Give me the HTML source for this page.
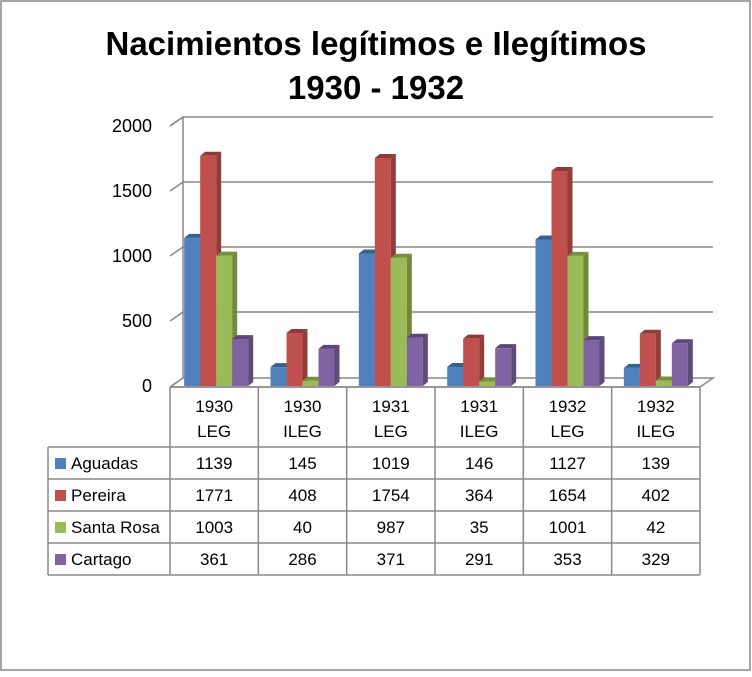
<!DOCTYPE html>
<html><head><meta charset="utf-8"><style>
body{margin:0;background:#fff}
svg text{font-family:"Liberation Sans",sans-serif}
</style></head><body>
<svg width="752" height="672">
<rect x="1" y="1" width="749" height="669" fill="#fff" stroke="#888" stroke-width="1.5"/>
<text x="376" y="55" text-anchor="middle" font-size="33" font-weight="bold">Nacimientos legítimos e Ilegítimos</text>
<text x="376" y="99" text-anchor="middle" font-size="33" font-weight="bold">1930 - 1932</text>
<g id="plot"></g>
</svg>
<script>
const categories=["1930|LEG","1930|ILEG","1931|LEG","1931|ILEG","1932|LEG","1932|ILEG"];
const seriesNames=["Aguadas","Pereira","Santa Rosa","Cartago"];
const aguadas=[1139,145,1019,146,1127,139];
const pereira=[1771,408,1754,364,1654,402];
const santaRosa=[1003,40,987,35,1001,42];
const cartago=[361,286,371,291,353,329];
const yTicks=[0,500,1000,1500,2000];
const colors=[["#4f81bd","#3a6294","#34618f"],["#c0504d","#943c3a","#8e3b38"],["#9bbb59","#6f8a3c","#76923c"],["#8064a2","#5f4a79","#5c4677"]];
const series=[aguadas,pereira,santaRosa,cartago];
const NS="http://www.w3.org/2000/svg";
const g=document.getElementById('plot');
function el(t,a,p){const e=document.createElementNS(NS,t);for(const k in a)e.setAttribute(k,a[k]);(p||g).appendChild(e);return e;}
const X0=170,X1=700,DX=13,DY=-9,BASE=386,SC=0.13;
const catW=(X1-X0)/categories.length;
function y(v){return BASE-v*SC;}
// walls
let w=el('path',{d:`M${X0} ${BASE+1} L${X0+DX} ${BASE+1+DY} L${X0+DX} ${y(2000)+DY} L${X0} ${y(2000)}`,fill:'none',stroke:'#888','stroke-width':1.5});

yTicks.forEach(t=>{
 const l=el('path',{d:`M${X0} ${y(t)+(t==0?1:0)} L${X0+DX} ${y(t)+DY+(t==0?1:0)} L${X1+DX} ${y(t)+DY+(t==0?1:0)}`+(t==0?` L${X1} ${BASE+1} L${X0} ${BASE+1}`:''),fill:'none',stroke:'#888','stroke-width':1.5});
 
 const tx=el('text',{x:152,y:y(t)+6,'text-anchor':'end','font-size':18});tx.textContent=t;
 
});
const bw=16,d=5;
categories.forEach((c,i)=>{
 const gx=X0+i*catW+catW/2-32+(i==0?2:0);
 series.forEach((s,j)=>{
  const x=gx+j*bw,top=y(s[i]),col=colors[j];
  const b=el('g',{});
  
  
  el('rect',{x:x,y:top,width:bw,height:BASE-top,fill:col[0]},b);
  el('path',{d:`M${x+bw} ${top} L${x+bw+d} ${top-4} L${x+bw+d} ${BASE-4} L${x+bw} ${BASE} Z`,fill:col[1]},b);
  el('path',{d:`M${x} ${top} L${x+d} ${top-4} L${x+bw+d} ${top-4} L${x+bw} ${top} Z`,fill:col[2]},b);
 });
});
// table
const T0=387,HR=60,RH=32,LX=48;
const cols=[];for(let i=0;i<=categories.length;i++)cols.push(X0+i*catW);
const tb=el('g',{stroke:'#888','stroke-width':1.5,fill:'none'});

cols.forEach(cx=>el('line',{x1:cx,y1:T0,x2:cx,y2:T0+HR+RH*4},tb));
el('line',{x1:LX,y1:T0+HR,x2:LX,y2:T0+HR+RH*4},tb);
for(let r=0;r<=4;r++)el('line',{x1:LX,y1:T0+HR+r*RH,x2:X1,y2:T0+HR+r*RH},tb);
el('line',{x1:X0,y1:T0,x2:X1,y2:T0},tb);
categories.forEach((c,i)=>{
 const cx=X0+i*catW+catW/2,p=c.split('|');
 [0,1].forEach(k=>{const t=el('text',{x:cx,y:T0+25+k*25,'text-anchor':'middle','font-size':17});t.textContent=p[k];
 });
});
series.forEach((s,j)=>{
 const ry=T0+HR+j*RH;
 const sw=el('rect',{x:LX+7,y:ry+11,width:11,height:11,fill:colors[j][0]});
 
 const n=el('text',{x:LX+23,y:ry+22,'font-size':17});n.textContent=seriesNames[j];
 
 s.forEach((v,i)=>{const t=el('text',{x:X0+i*catW+catW/2,y:ry+22,'text-anchor':'middle','font-size':17});t.textContent=v;
 });
});
</script>
</body></html>
